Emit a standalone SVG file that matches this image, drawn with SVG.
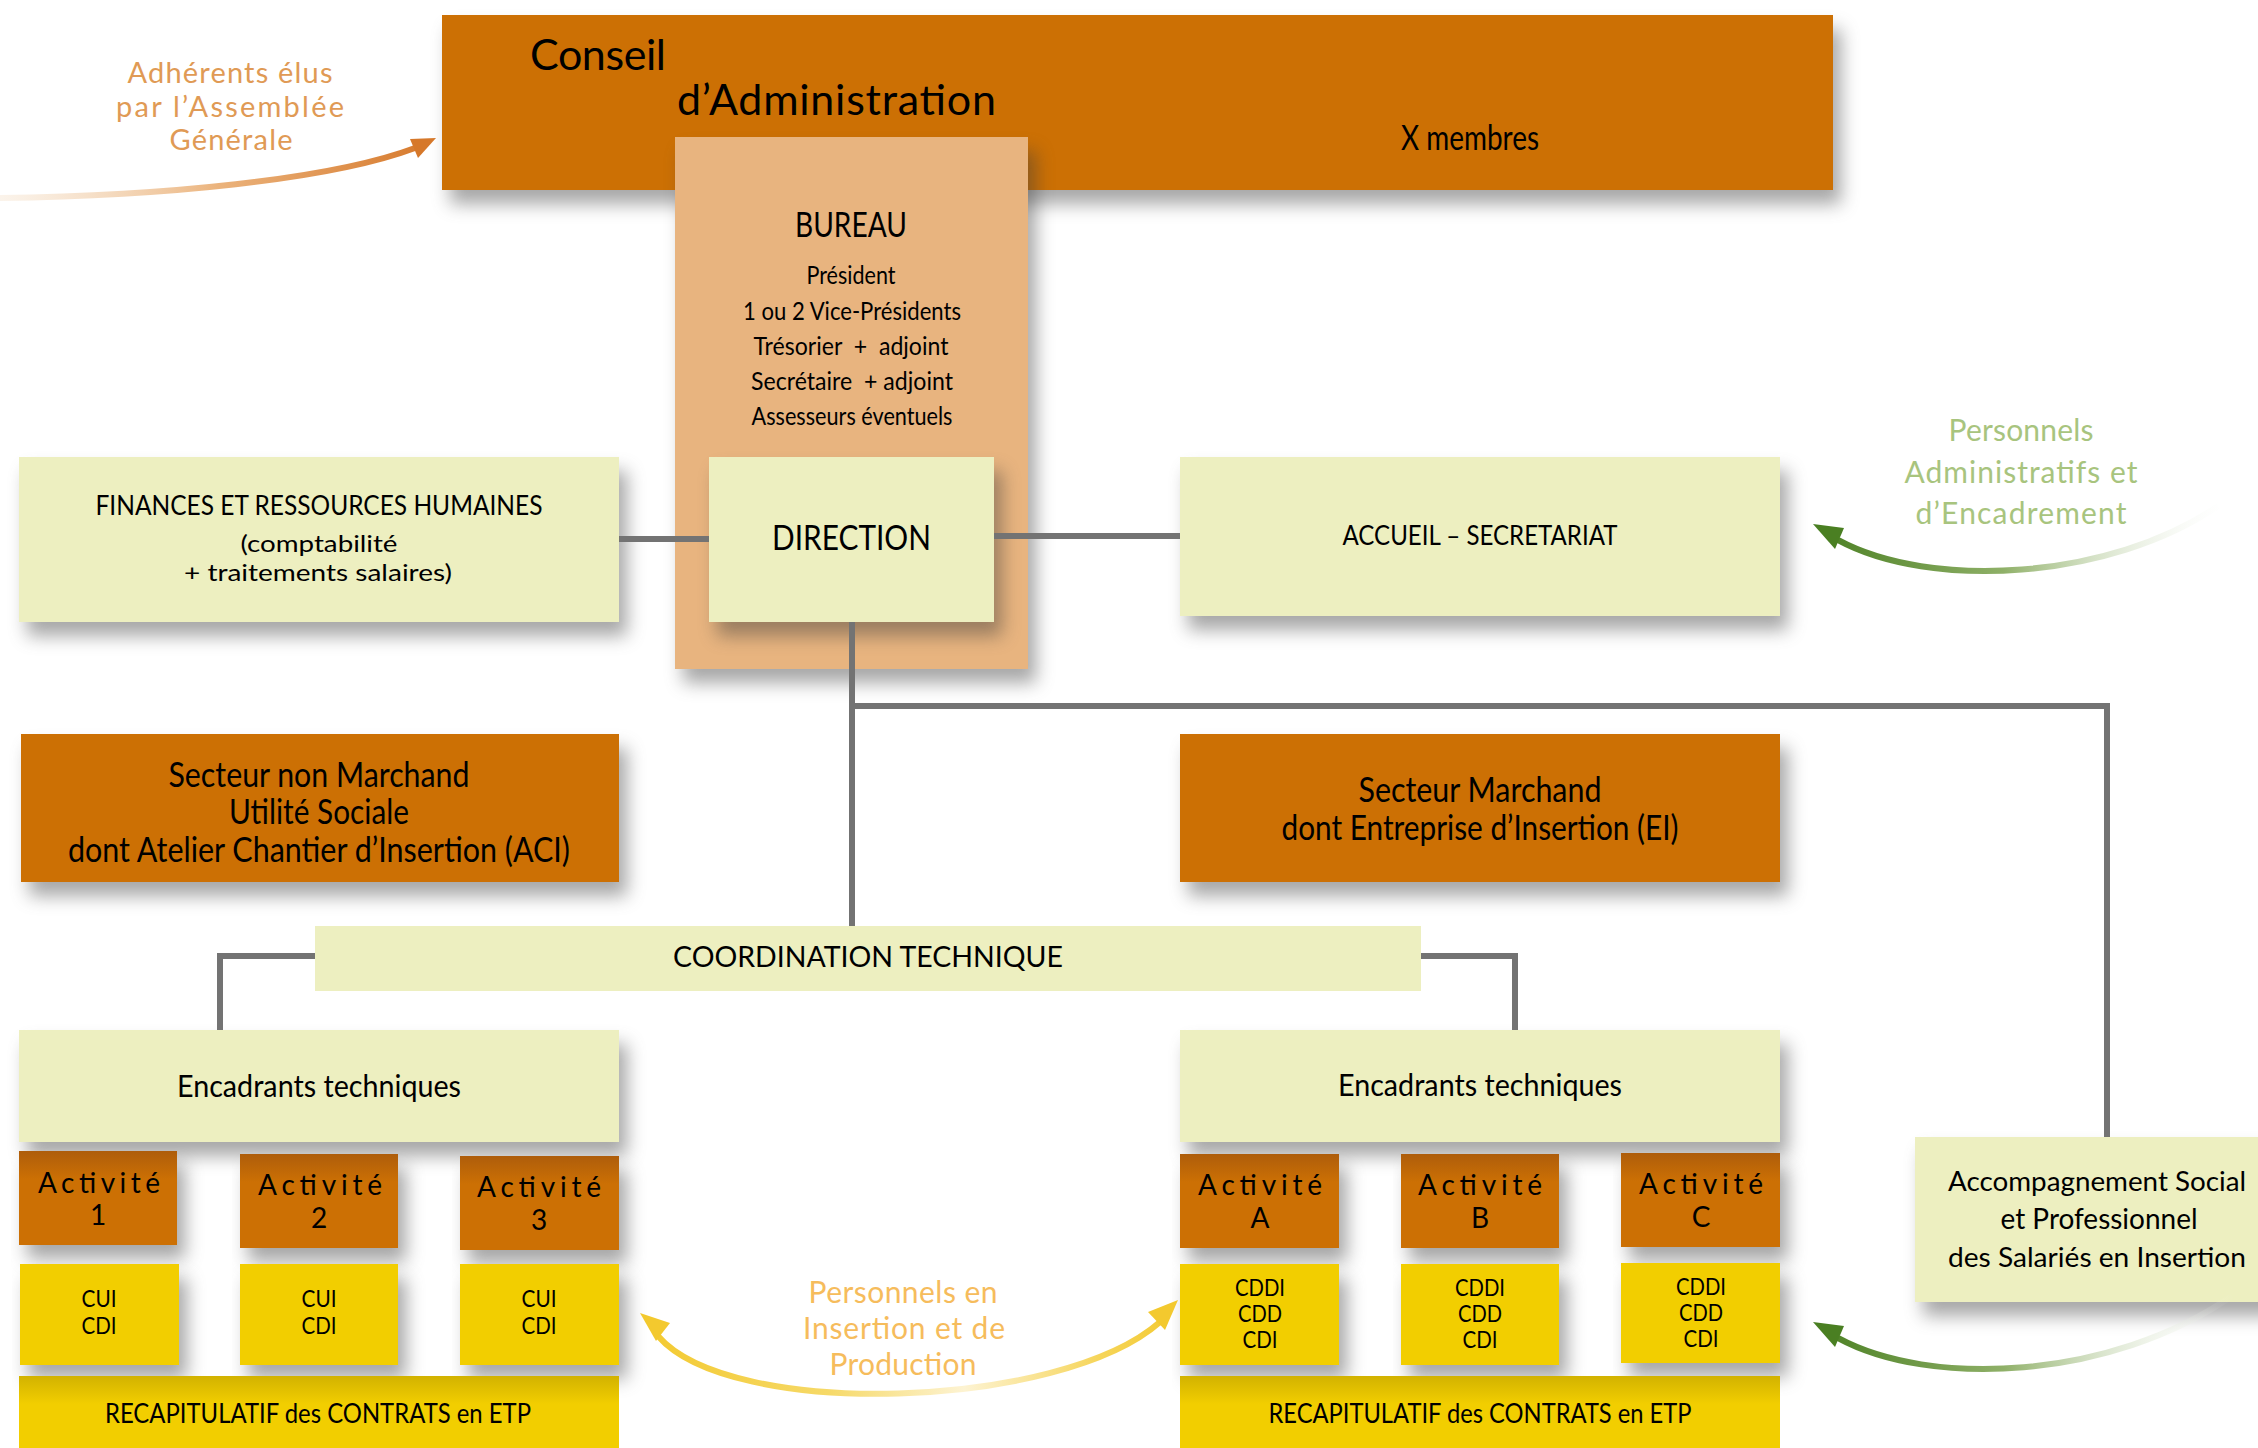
<svg xmlns="http://www.w3.org/2000/svg" width="2258" height="1448" viewBox="0 0 2258 1448">
<defs>
<filter id="sh" x="-5%" y="-10%" width="125%" height="160%" color-interpolation-filters="sRGB">
<feDropShadow dx="8" dy="14" stdDeviation="9" flood-color="#3c3c3c" flood-opacity="0.45"/>
</filter>
<linearGradient id="gAct" x1="0" y1="0" x2="0" y2="1"><stop offset="0" stop-color="#AE5D0B"/><stop offset="0.3" stop-color="#CC7004"/></linearGradient>
<linearGradient id="gRec" x1="0" y1="0" x2="0" y2="1"><stop offset="0" stop-color="#D2B200"/><stop offset="0.35" stop-color="#F2CE00"/></linearGradient>
<linearGradient id="gOr" gradientUnits="userSpaceOnUse" x1="0" y1="0" x2="436" y2="0"><stop offset="0" stop-color="#F5E2CC" stop-opacity="0.4"/><stop offset="0.5" stop-color="#EBB37C"/><stop offset="1" stop-color="#D6782A"/></linearGradient>
<linearGradient id="gGr" gradientUnits="userSpaceOnUse" x1="1815" y1="0" x2="2235" y2="0"><stop offset="0" stop-color="#4A7F22"/><stop offset="0.45" stop-color="#8FB068"/><stop offset="1" stop-color="#ffffff" stop-opacity="0"/></linearGradient>
<linearGradient id="gYe" gradientUnits="userSpaceOnUse" x1="640" y1="0" x2="1180" y2="0"><stop offset="0" stop-color="#F3C92E"/><stop offset="0.35" stop-color="#F6D968"/><stop offset="0.6" stop-color="#FDF3D2"/><stop offset="0.85" stop-color="#F6D55A"/><stop offset="1" stop-color="#F3C92E"/></linearGradient>
</defs>
<style>
text{font-family:Lato,"Liberation Sans",sans-serif;fill:#000}
.c{text-anchor:middle}
.or{fill:#CC7004}
.bu{fill:#E8B47F}
.pa{fill:#EDEFC0}
.ye{fill:#F2CE00}
.ac{fill:url(#gAct)}
.rc{fill:url(#gRec)}
.sh{filter:url(#sh)}
.ln{stroke:#737373;stroke-width:6;fill:none}
.lo{fill:#E09A55}
.lg{fill:#A8C47E}
.ly{fill:#F6BC5C}
</style>
<rect width="2258" height="1448" fill="#ffffff"/>

<g id="conseil">
<rect class="or sh" x="442" y="15" width="1391" height="175"/>
<text x="530" y="70" font-size="43" textLength="136" lengthAdjust="spacing">Conseil</text>
<text x="677" y="115" font-size="43" textLength="319" lengthAdjust="spacing">d’Administration</text>
<text x="1401" y="150" font-size="34" textLength="138" lengthAdjust="spacingAndGlyphs">X membres</text>
</g>

<g id="bureau">
<rect class="bu sh" x="675" y="137" width="353" height="532"/>
<text class="c" x="851" y="237" font-size="34" textLength="112" lengthAdjust="spacingAndGlyphs">BUREAU</text>
<text class="c" x="851" y="284" font-size="25" textLength="89" lengthAdjust="spacingAndGlyphs">Président</text>
<text class="c" x="852" y="320" font-size="25" textLength="218" lengthAdjust="spacingAndGlyphs">1 ou 2 Vice-Présidents</text>
<text class="c" x="851" y="355" font-size="25" textLength="195" lengthAdjust="spacingAndGlyphs" xml:space="preserve">Trésorier  +  adjoint</text>
<text class="c" x="852" y="390" font-size="25" textLength="202" lengthAdjust="spacingAndGlyphs" xml:space="preserve">Secrétaire  + adjoint</text>
<text class="c" x="852" y="425" font-size="25" textLength="201" lengthAdjust="spacingAndGlyphs">Assesseurs éventuels</text>
</g>

<g id="direction">
<rect class="pa sh" x="709" y="457" width="285" height="165"/>
<text class="c" x="851.5" y="550" font-size="34" textLength="159" lengthAdjust="spacingAndGlyphs">DIRECTION</text>
</g>

<g id="finances">
<rect class="pa sh" x="19" y="457" width="600" height="165"/>
<text class="c" x="319" y="515" font-size="26" textLength="447" lengthAdjust="spacingAndGlyphs">FINANCES ET RESSOURCES HUMAINES</text>
<text class="c" x="319" y="552" font-size="24" textLength="157" lengthAdjust="spacingAndGlyphs">(comptabilité</text>
<text class="c" x="318" y="581" font-size="24" textLength="268" lengthAdjust="spacingAndGlyphs">+ traitements salaires)</text>
</g>

<g id="accueil">
<rect class="pa sh" x="1180" y="457" width="600" height="159"/>
<text class="c" x="1480" y="545" font-size="26" textLength="275" lengthAdjust="spacingAndGlyphs">ACCUEIL – SECRETARIAT</text>
</g>

<g id="secteur-non-marchand">
<rect class="or sh" x="21" y="734" width="598" height="148"/>
<text class="c" x="319" y="787" font-size="34" textLength="301" lengthAdjust="spacingAndGlyphs">Secteur non Marchand</text>
<text class="c" x="319" y="824" font-size="34" textLength="180" lengthAdjust="spacingAndGlyphs">Utilité Sociale</text>
<text class="c" x="319" y="862" font-size="34" textLength="502" lengthAdjust="spacingAndGlyphs">dont Atelier Chantier d’Insertion (ACI)</text>
</g>

<g id="secteur-marchand">
<rect class="or sh" x="1180" y="734" width="600" height="148"/>
<text class="c" x="1480" y="802" font-size="34" textLength="243" lengthAdjust="spacingAndGlyphs">Secteur Marchand</text>
<text class="c" x="1480" y="840" font-size="34" textLength="397" lengthAdjust="spacingAndGlyphs">dont Entreprise d’Insertion (EI)</text>
</g>

<g id="coordination">
<rect class="pa" x="315" y="926" width="1106" height="65"/>
<text class="c" x="868" y="967" font-size="29" textLength="390" lengthAdjust="spacingAndGlyphs">COORDINATION TECHNIQUE</text>
</g>

<g id="encadrants-gauche">
<rect class="pa sh" x="19" y="1030" width="600" height="112"/>
<text class="c" x="319" y="1097" font-size="30" textLength="284" lengthAdjust="spacingAndGlyphs">Encadrants techniques</text>
</g>

<g id="encadrants-droite">
<rect class="pa sh" x="1180" y="1030" width="600" height="112"/>
<text class="c" x="1480" y="1096" font-size="30" textLength="284" lengthAdjust="spacingAndGlyphs">Encadrants techniques</text>
</g>

<g id="activite-1">
<rect class="ac sh" x="19" y="1151" width="158" height="94"/>
<text class="c" x="99" y="1193" font-size="28" textLength="122" lengthAdjust="spacing">Activité</text>
<text class="c" x="98" y="1225" font-size="28">1</text>
</g>
<g id="activite-2">
<rect class="ac sh" x="240" y="1154" width="158" height="94"/>
<text class="c" x="320" y="1195" font-size="28" textLength="124" lengthAdjust="spacing">Activité</text>
<text class="c" x="319" y="1228" font-size="28">2</text>
</g>
<g id="activite-3">
<rect class="ac sh" x="460" y="1156" width="159" height="94"/>
<text class="c" x="539" y="1197" font-size="28" textLength="124" lengthAdjust="spacing">Activité</text>
<text class="c" x="539" y="1230" font-size="28">3</text>
</g>

<g id="contrats-1">
<rect class="ye sh" x="20" y="1264" width="159" height="101"/>
<text class="c" x="99" y="1307" font-size="23" textLength="35" lengthAdjust="spacingAndGlyphs">CUI</text>
<text class="c" x="99" y="1334" font-size="23" textLength="35" lengthAdjust="spacingAndGlyphs">CDI</text>
</g>
<g id="contrats-2">
<rect class="ye sh" x="240" y="1264" width="158" height="101"/>
<text class="c" x="319" y="1307" font-size="23" textLength="35" lengthAdjust="spacingAndGlyphs">CUI</text>
<text class="c" x="319" y="1334" font-size="23" textLength="35" lengthAdjust="spacingAndGlyphs">CDI</text>
</g>
<g id="contrats-3">
<rect class="ye sh" x="460" y="1264" width="159" height="101"/>
<text class="c" x="539" y="1307" font-size="23" textLength="35" lengthAdjust="spacingAndGlyphs">CUI</text>
<text class="c" x="539" y="1334" font-size="23" textLength="35" lengthAdjust="spacingAndGlyphs">CDI</text>
</g>

<g id="recap-gauche">
<rect class="rc" x="19" y="1376" width="600" height="80"/>
<text class="c" x="318" y="1423" font-size="26" textLength="426" lengthAdjust="spacingAndGlyphs">RECAPITULATIF des CONTRATS en ETP</text>
</g>

<g id="activite-a">
<rect class="ac sh" x="1180" y="1154" width="159" height="94"/>
<text class="c" x="1260" y="1195" font-size="28" textLength="124" lengthAdjust="spacing">Activité</text>
<text class="c" x="1260" y="1228" font-size="28">A</text>
</g>
<g id="activite-b">
<rect class="ac sh" x="1401" y="1154" width="158" height="94"/>
<text class="c" x="1480" y="1195" font-size="28" textLength="124" lengthAdjust="spacing">Activité</text>
<text class="c" x="1480" y="1228" font-size="28">B</text>
</g>
<g id="activite-c">
<rect class="ac sh" x="1621" y="1153" width="159" height="94"/>
<text class="c" x="1701" y="1194" font-size="28" textLength="124" lengthAdjust="spacing">Activité</text>
<text class="c" x="1701" y="1227" font-size="28">C</text>
</g>

<g id="contrats-a">
<rect class="ye sh" x="1180" y="1264" width="159" height="101"/>
<text class="c" x="1260" y="1296" font-size="24" textLength="50" lengthAdjust="spacingAndGlyphs">CDDI</text>
<text class="c" x="1260" y="1322" font-size="24" textLength="44" lengthAdjust="spacingAndGlyphs">CDD</text>
<text class="c" x="1260" y="1348" font-size="24" textLength="35" lengthAdjust="spacingAndGlyphs">CDI</text>
</g>
<g id="contrats-b">
<rect class="ye sh" x="1401" y="1264" width="158" height="101"/>
<text class="c" x="1480" y="1296" font-size="24" textLength="50" lengthAdjust="spacingAndGlyphs">CDDI</text>
<text class="c" x="1480" y="1322" font-size="24" textLength="44" lengthAdjust="spacingAndGlyphs">CDD</text>
<text class="c" x="1480" y="1348" font-size="24" textLength="35" lengthAdjust="spacingAndGlyphs">CDI</text>
</g>
<g id="contrats-c">
<rect class="ye sh" x="1621" y="1263" width="159" height="100"/>
<text class="c" x="1701" y="1295" font-size="24" textLength="50" lengthAdjust="spacingAndGlyphs">CDDI</text>
<text class="c" x="1701" y="1321" font-size="24" textLength="44" lengthAdjust="spacingAndGlyphs">CDD</text>
<text class="c" x="1701" y="1347" font-size="24" textLength="35" lengthAdjust="spacingAndGlyphs">CDI</text>
</g>

<g id="recap-droite">
<rect class="rc" x="1180" y="1376" width="600" height="80"/>
<text class="c" x="1480" y="1423" font-size="26" textLength="423" lengthAdjust="spacingAndGlyphs">RECAPITULATIF des CONTRATS en ETP</text>
</g>

<g id="accompagnement">
<rect class="pa sh" x="1915" y="1137" width="420" height="165"/>
<text class="c" x="2097" y="1191" font-size="27" textLength="298" lengthAdjust="spacingAndGlyphs">Accompagnement Social</text>
<text class="c" x="2099" y="1229" font-size="28" textLength="197" lengthAdjust="spacingAndGlyphs">et Professionnel</text>
<text class="c" x="2097" y="1267" font-size="27" textLength="298" lengthAdjust="spacingAndGlyphs">des Salariés en Insertion</text>
</g>

<g id="connectors">
<polyline class="ln" points="619,539 709,539"/>
<polyline class="ln" points="994,536 1180,536"/>
<polyline class="ln" points="852,622 852,926"/>
<polyline class="ln" points="852,706 2107,706 2107,1137"/>
<polyline class="ln" points="315,956 220,956 220,1030"/>
<polyline class="ln" points="1421,956 1515,956 1515,1030"/>
</g>

<g id="annotations">
<path d="M0 198 C160 196 330 180 415 148" fill="none" stroke="url(#gOr)" stroke-width="6"/>
<polygon points="436,138 418,158 410,139" fill="#D6782A"/>
<text class="c lo" x="230" y="83" font-size="29" textLength="205" lengthAdjust="spacing">Adhérents élus</text>
<text class="c lo" x="230" y="117" font-size="29" textLength="228" lengthAdjust="spacing">par l’Assemblée</text>
<text class="c lo" x="231" y="150" font-size="29" textLength="123" lengthAdjust="spacing">Générale</text>

<path d="M2218 506 C2110 580 1930 590 1838 540" fill="none" stroke="url(#gGr)" stroke-width="6"/>
<polygon points="1813,524 1844,528 1835,549" fill="#4A7F22"/>
<text class="c lg" x="2021" y="441" font-size="30" textLength="145" lengthAdjust="spacing">Personnels</text>
<text class="c lg" x="2021" y="483" font-size="30" textLength="233" lengthAdjust="spacing">Administratifs et</text>
<text class="c lg" x="2021" y="524" font-size="30" textLength="211" lengthAdjust="spacing">d’Encadrement</text>

<path d="M2232 1296 C2110 1380 1930 1388 1838 1338" fill="none" stroke="url(#gGr)" stroke-width="6"/>
<polygon points="1813,1322 1844,1326 1835,1347" fill="#4A7F22"/>

<path d="M658 1336 C730 1420 1060 1410 1160 1322" fill="none" stroke="url(#gYe)" stroke-width="6"/>
<polygon points="640,1313 670,1323 656,1341" fill="#F3C92E"/>
<polygon points="1178,1300 1165,1330 1148,1312" fill="#F3C92E"/>
<text class="c ly" x="903" y="1303" font-size="30" textLength="189" lengthAdjust="spacing">Personnels en</text>
<text class="c ly" x="904" y="1339" font-size="30" textLength="202" lengthAdjust="spacing">Insertion et de</text>
<text class="c ly" x="903" y="1375" font-size="30" textLength="147" lengthAdjust="spacing">Production</text>
</g>
</svg>
